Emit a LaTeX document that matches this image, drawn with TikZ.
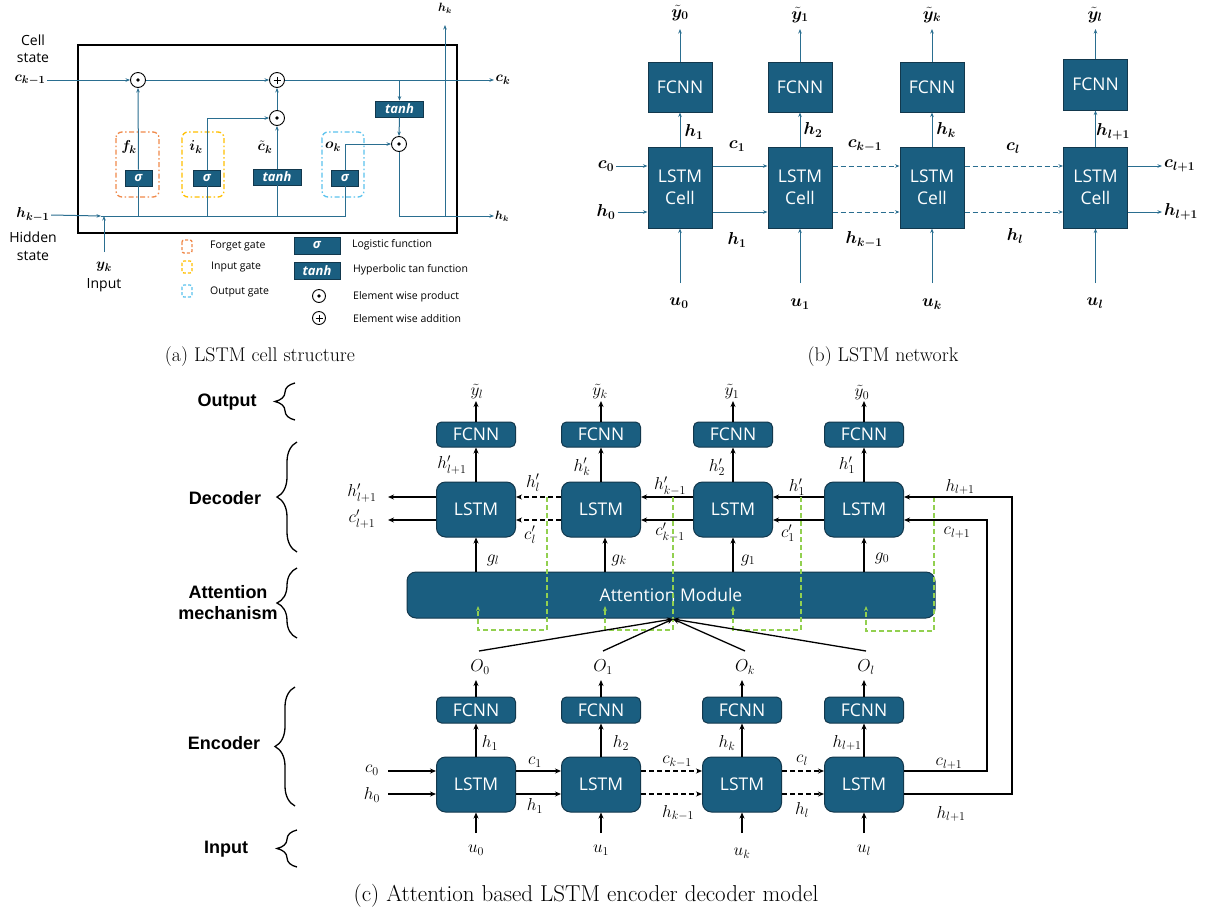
\documentclass[tikz,border=0pt]{standalone}
\usepackage{amsmath,bm}
\usepackage{fontspec}
\newfontfamily\boxfont{Open Sans}
\newfontfamily\hdfont{Liberation Sans}
\usetikzlibrary{arrows.meta,decorations.pathreplacing,calc}
\definecolor{boxc}{HTML}{1A5E80}
\definecolor{boxd}{HTML}{12384D}
\definecolor{lnc}{HTML}{2A6E90}
\definecolor{grn}{HTML}{92D050}
\definecolor{orgc}{HTML}{F08A4B}
\definecolor{ylwc}{HTML}{FFC000}
\definecolor{cyc}{HTML}{5BC3EE}
\newcommand{\bty}{\tilde{\bm{y}}}
\begin{document}
\begin{tikzpicture}[x=1pt,y=-1pt,
  ln/.style={draw=lnc,line width=1pt},
  lna/.style={ln,-{Stealth[length=4.5pt,width=3.5pt]}},
  bk/.style={draw=black,line width=1.3pt},
  bka/.style={bk,-{Stealth[length=6pt,width=5pt]}},
  dsh/.style={dash pattern=on 5pt off 3pt},
  gd/.style={draw=grn,line width=1.3pt,dash pattern=on 5pt off 3pt},
  gda/.style={gd,-{Stealth[length=5pt,width=4pt]}},
  opdot/.style={circle,draw=black,line width=0.9pt,fill=white,minimum size=15pt,inner sep=0pt,
    path picture={\fill[black] (path picture bounding box.center) circle (1.8pt);}},
  opplus/.style={circle,draw=black,line width=0.9pt,fill=white,minimum size=15pt,inner sep=0pt,
    path picture={\draw[black,line width=0.8pt] (path picture bounding box.center) ++(-3.5,0) -- ++(7,0)
      (path picture bounding box.center) ++(0,-3.5) -- ++(0,7);}},
  fnbox/.style={fill=boxc,draw=boxd,line width=0.8pt,text=white,inner sep=0pt,
    font=\boxfont\bfseries\itshape\fontsize{13}{13}\selectfont},
  sigbox/.style={fnbox,minimum width=27pt,minimum height=16pt},
  tanhbox/.style={fnbox,minimum width=48pt,minimum height=16pt},
  netbox/.style={fill=boxc,draw=boxd,line width=1pt,text=white,inner sep=0pt,align=center,
    minimum width=64pt,font=\boxfont\fontsize{17.5}{22}\selectfont},
  rbox/.style={fill=boxc,draw=boxd,line width=1pt,text=white,inner sep=0pt,minimum width=79pt,
    font=\boxfont\fontsize{17.5}{19}\selectfont},
  fcc/.style={rbox,minimum height=25pt,rounded corners=5pt},
  lsc/.style={rbox,minimum height=55pt,rounded corners=9pt},
  txa/.style={font=\boxfont\fontsize{14}{16}\selectfont,inner sep=1pt},
  lgt/.style={font=\boxfont\fontsize{10.5}{12}\selectfont,anchor=west,inner sep=0pt},
  mla/.style={font=\fontsize{15.5}{17}\selectfont,inner sep=1.5pt},
  mls/.style={font=\fontsize{11.5}{13}\selectfont,inner sep=1pt},
  mlb/.style={font=\fontsize{16.5}{18}\selectfont,inner sep=2pt},
  mlc/.style={font=\fontsize{18}{20}\selectfont,inner sep=1pt},
  hd/.style={font=\hdfont\bfseries\fontsize{18}{21}\selectfont,align=center},
  brc/.style={draw=black,line width=1.3pt,decorate,decoration={brace,amplitude=20pt}},
  captxt/.style={font=\fontsize{19.8}{22}\selectfont},
  gate/.style={line width=1.3pt,dash pattern=on 5pt off 2.5pt on 1.5pt off 2.5pt,rounded corners=6pt}
]
\fill[white] (0,0) rectangle (1208,914);
\useasboundingbox (0,0) rectangle (1208,914);

% ================= (a) LSTM cell structure =================
\draw[line width=1.4pt] (78,45) rectangle (457,233);
\node[txa] (cs1) at (33,40) {Cell};
\node[txa] (cs2) at (33,58) {state};
\node[mla] (ckm) at (30,80) {$\bm{c_{k-1}}$};
\node[mla] (hkm) at (33,215) {$\bm{h_{k-1}}$};
\node[txa] (hs1) at (33,237) {Hidden};
\node[txa] (hs2) at (33,256) {state};
\node[mla] (yk) at (104,267) {$\bm{y_k}$};
\node[txa] (inp) at (104,285) {Input};

% gate frames
\draw[gate,draw=orgc] (116,132) rectangle (159,197);
\draw[gate,draw=ylwc] (182,132) rectangle (224,197);
\draw[gate,draw=cyc] (322,132) rectangle (364,197);

\node[opdot] (m1) at (138,80) {};
\node[opplus] (a1) at (277,80) {};
\node[opdot] (m2) at (277,118) {};
\node[opdot] (m3) at (399,144) {};
\node[sigbox] (sf) at (138.5,178) {σ};
\node[sigbox] (si) at (207,178) {σ};
\node[tanhbox] (tc) at (277,177) {tanh};
\node[sigbox] (so) at (345,178) {σ};
\node[tanhbox] (tt) at (399.5,109) {tanh};
\node[mla] (fk) at (129,147) {$\bm{f_k}$};
\node[mla] (ik) at (196,147) {$\bm{i_k}$};
\node[mla] (ctk) at (265,147) {$\tilde{\bm{c}}_{\bm{k}}$};
\node[mla] (ok) at (333,147) {$\bm{o_k}$};
\node[mla,anchor=west] (ck) at (494,80) {$\bm{c_k}$};
\node[mls,anchor=west] (hko) at (494,216) {$\bm{h_k}$};
\node[mls] (hkt) at (445,8) {$\bm{h_k}$};

\coordinate (tb) at (399.5,80);
\coordinate (hy) at (101,216);
\coordinate (hj) at (445,216);
\coordinate (hke) at (445,25);
\coordinate (yb) at (104,252);
\coordinate (yt) at (104,216);

\draw[lna] (ckm.east) -- (m1.west);
\draw[lna] (m1.east) -- (a1.west);
\draw[lna] (a1.east) -- (ck.west);
\draw[lna] (tb) -- (tt.north);
\draw[lna] (tt.south) -- (m3.north);
\draw[lna] (sf.north) -- (m1.south);
\draw[lna] (si.north) |- (m2.west);
\draw[lna] (tc.north) -- (m2.south);
\draw[lna] (m2.north) -- (a1.south);
\draw[lna] (so.north) |- (m3.west);
\draw[lna] (m3.south) |- (hko.west);
\draw[lna] (hj) -- (hke);
\draw[lna] (hkm.east) -- (hy);
\draw[ln] (hy) -- (so.south |- hy) -- (so.south);
\draw[ln] (sf.south) -- (sf.south |- hy);
\draw[ln] (si.south) -- (si.south |- hy);
\draw[ln] (tc.south) -- (tc.south |- hy);
\draw[lna] (yb) -- (yt);

% legend
\draw[gate,draw=orgc,rounded corners=2pt,dash pattern=on 3pt off 2pt] (182,240) rectangle (192,253);
\draw[gate,draw=ylwc,rounded corners=2pt,dash pattern=on 3pt off 2pt] (182,261) rectangle (192,273);
\draw[gate,draw=cyc,rounded corners=2pt,dash pattern=on 3pt off 2pt] (182,285) rectangle (192,297);
\node[lgt] (lg1) at (210,246) {Forget gate};
\node[lgt] (lg2) at (211,267) {Input gate};
\node[lgt] (lg3) at (210,292) {Output gate};
\node[sigbox,minimum width=46pt,minimum height=17pt] (lgs) at (317,245.5) {σ};
\node[tanhbox,minimum width=46pt,minimum height=17pt] (lgt) at (317,270.5) {tanh};
\node[opdot,minimum size=13pt] (lgd) at (319,296) {};
\node[opplus,minimum size=13pt] (lgp) at (319,318) {};
\node[lgt] (lg4) at (352,245) {Logistic function};
\node[lgt] (lg5) at (353,270) {Hyperbolic tan function};
\node[lgt] (lg6) at (353,297) {Element wise product};
\node[lgt] (lg7) at (353,319) {Element wise addition};

\node[captxt] (capa) at (260,357) {(a) LSTM cell structure};

% ================= (b) LSTM network =================
\node[netbox,minimum height=50pt] (fb1) at (680,87) {FCNN};
\node[netbox,minimum height=50pt] (fb2) at (800,87) {FCNN};
\node[netbox,minimum height=50pt] (fb3) at (932,87) {FCNN};
\node[netbox,minimum height=51pt] (fb4) at (1095.5,84.5) {FCNN};
\node[netbox,minimum height=81pt] (lb1) at (680,187.5) {LSTM\\Cell};
\node[netbox,minimum height=81pt] (lb2) at (800,187.5) {LSTM\\Cell};
\node[netbox,minimum height=81pt] (lb3) at (932,187.5) {LSTM\\Cell};
\node[netbox,minimum height=81pt] (lb4) at (1095.5,187.5) {LSTM\\Cell};

\node[mlb] (yb0) at (680,13) {$\bty_{\bm{0}}$};
\node[mlb] (yb1) at (800,15) {$\bty_{\bm{1}}$};
\node[mlb] (ybk) at (932,15) {$\bty_{\bm{k}}$};
\node[mlb] (ybl) at (1095,15) {$\bty_{\bm{l}}$};
\coordinate (yb0e) at (680,29);
\coordinate (yb1e) at (800,29);
\coordinate (ybke) at (932,29);
\coordinate (yble) at (1095.5,29);
\draw[lna] (fb1.north) -- (yb0e);
\draw[lna] (fb2.north) -- (yb1e);
\draw[lna] (fb3.north) -- (ybke);
\draw[lna] (fb4.north) -- (yble);
\draw[lna] (lb1.north) -- (fb1.south);
\draw[lna] (lb2.north) -- (fb2.south);
\draw[lna] (lb3.north) -- (fb3.south);
\draw[lna] (lb4.north) -- (fb4.south);

\node[mlb] (hbu1) at (694,132) {$\bm{h_1}$};
\node[mlb] (hbu2) at (813,130) {$\bm{h_2}$};
\node[mlb] (hbuk) at (946,130) {$\bm{h_k}$};
\node[mlb] (hbul) at (1113,132) {$\bm{h_{l+1}}$};

\node[mlb] (cb0) at (606,166) {$\bm{c_0}$};
\node[mlb] (hb0) at (606,212) {$\bm{h_0}$};
\draw[lna] (cb0.east) -- ([yshift=21.5pt]lb1.west);
\draw[lna] (hb0.east) -- ([yshift=-24.5pt]lb1.west);
\draw[lna] ([yshift=21.5pt]lb1.east) -- ([yshift=21.5pt]lb2.west);
\draw[lna] ([yshift=-24.5pt]lb1.east) -- ([yshift=-24.5pt]lb2.west);
\draw[lna,dsh] ([yshift=21.5pt]lb2.east) -- ([yshift=21.5pt]lb3.west);
\draw[lna,dsh] ([yshift=-24.5pt]lb2.east) -- ([yshift=-24.5pt]lb3.west);
\draw[lna,dsh] ([yshift=21.5pt]lb3.east) -- ([yshift=21.5pt]lb4.west);
\draw[lna,dsh] ([yshift=-24.5pt]lb3.east) -- ([yshift=-24.5pt]lb4.west);
\node[mlb,anchor=west] (cbo) at (1162,166) {$\bm{c_{l+1}}$};
\node[mlb,anchor=west] (hbo) at (1162,212) {$\bm{h_{l+1}}$};
\draw[lna] ([yshift=21.5pt]lb4.east) -- (cbo.west);
\draw[lna] ([yshift=-24.5pt]lb4.east) -- (hbo.west);

\node[mlb] (cb1) at (737,146) {$\bm{c_1}$};
\node[mlb] (hb1) at (737,240) {$\bm{h_1}$};
\node[mlb] (cbk) at (865,146) {$\bm{c_{k-1}}$};
\node[mlb] (hbk) at (864,240) {$\bm{h_{k-1}}$};
\node[mlb] (cbl) at (1013,148) {$\bm{c_l}$};
\node[mlb] (hbl) at (1015,236) {$\bm{h_l}$};

\coordinate (ub0s) at (680,283);
\coordinate (ub1s) at (800,283);
\coordinate (ubks) at (932,283);
\coordinate (ubls) at (1095.5,283);
\draw[lna] (ub0s) -- (lb1.south);
\draw[lna] (ub1s) -- (lb2.south);
\draw[lna] (ubks) -- (lb3.south);
\draw[lna] (ubls) -- (lb4.south);
\node[mlb] (ub0) at (679,303) {$\bm{u_0}$};
\node[mlb] (ub1) at (800,304) {$\bm{u_1}$};
\node[mlb] (ubk) at (932,304) {$\bm{u_k}$};
\node[mlb] (ubl) at (1095,303) {$\bm{u_l}$};

\node[captxt] (capb) at (883,357) {(b) LSTM network};

% ================= (c) attention encoder-decoder =================
% side labels with braces
\node[hd] (sOut) at (227,402) {Output};
\node[hd] (sDec) at (225,498) {Decoder};
\node[hd] (sAtt) at (228,603) {Attention\\mechanism};
\node[hd] (sEnc) at (224,743) {Encoder};
\node[hd] (sInp) at (226,849) {Input};
\draw[brc] (295,420) -- (295,383);
\draw[brc] (297,552) -- (297,442);
\draw[brc] (297,638) -- (297,568);
\draw[brc] (295,806) -- (295,687);
\draw[brc] (297,867) -- (297,830);

% decoder
\node[fcc] (dfc1) at (476,434.5) {FCNN};
\node[fcc] (dfc2) at (601,434.5) {FCNN};
\node[fcc] (dfc3) at (733,434.5) {FCNN};
\node[fcc] (dfc4) at (864,434.5) {FCNN};
\node[lsc] (dls1) at (476,509.5) {LSTM};
\node[lsc] (dls2) at (601,509.5) {LSTM};
\node[lsc] (dls3) at (733,509.5) {LSTM};
\node[lsc] (dls4) at (864,509.5) {LSTM};
\node[rbox,minimum width=528pt,minimum height=46pt,rounded corners=9pt] (att) at (671,595) {Attention Module};

\node[mlc] (yo1) at (477,392) {$\tilde{y}_l$};
\node[mlc] (yo2) at (600,392) {$\tilde{y}_k$};
\node[mlc] (yo3) at (732,392) {$\tilde{y}_1$};
\node[mlc] (yo4) at (862,393) {$\tilde{y}_0$};
\coordinate (yo1e) at (476,401);
\coordinate (yo2e) at (601,401);
\coordinate (yo3e) at (733,401);
\coordinate (yo4e) at (864,401);
\draw[bka] (dfc1.north) -- (yo1e);
\draw[bka] (dfc2.north) -- (yo2e);
\draw[bka] (dfc3.north) -- (yo3e);
\draw[bka] (dfc4.north) -- (yo4e);
\draw[bka] (dls1.north) -- (dfc1.south);
\draw[bka] (dls2.north) -- (dfc2.south);
\draw[bka] (dls3.north) -- (dfc3.south);
\draw[bka] (dls4.north) -- (dfc4.south);
\node[mlc] (hd1) at (452,465) {$h'_{l+1}$};
\node[mlc] (hd2) at (582,467) {$h'_k$};
\node[mlc] (hd3) at (717,467) {$h'_2$};
\node[mlc] (hd4) at (847,465) {$h'_1$};

% decoder state chain (right to left)
\coordinate (dho) at (388,497);
\coordinate (dco) at (388,520);
\draw[bka] ([yshift=12.5pt]dls1.west) -- (dho);
\draw[bka] ([yshift=-10.5pt]dls1.west) -- (dco);
\draw[bka,dsh] ([yshift=12.5pt]dls2.west) -- ([yshift=12.5pt]dls1.east);
\draw[bka,dsh] ([yshift=-10.5pt]dls2.west) -- ([yshift=-10.5pt]dls1.east);
\draw[bka] ([yshift=12.5pt]dls3.west) -- ([yshift=12.5pt]dls2.east);
\draw[bka] ([yshift=-10.5pt]dls3.west) -- ([yshift=-10.5pt]dls2.east);
\draw[bka] ([yshift=12.5pt]dls4.west) -- ([yshift=12.5pt]dls3.east);
\draw[bka] ([yshift=-10.5pt]dls4.west) -- ([yshift=-10.5pt]dls3.east);
\node[mlc] (dlh0) at (362,493) {$h'_{l+1}$};
\node[mlc] (dlc0) at (362,519) {$c'_{l+1}$};
\node[mlc] (dlh1) at (533,483) {$h'_l$};
\node[mlc] (dlc1) at (530,535) {$c'_l$};
\node[mlc] (dlh2) at (670,486) {$h'_{k-1}$};
\node[mlc] (dlc2) at (670,532) {$c'_{k-1}$};
\node[mlc] (dlh3) at (797,487) {$h'_1$};
\node[mlc] (dlc3) at (788,533) {$c'_1$};
\node[mlc] (dlh4) at (960,487) {$h_{l+1}$};
\node[mlc] (dlc4) at (957,533) {$c_{l+1}$};

% context vectors into the decoder
\draw[bka] (dls1.south |- att.north) -- (dls1.south);
\draw[bka] ([xshift=4pt]dls2.south |- att.north) -- ([xshift=4pt]dls2.south);
\draw[bka] (dls3.south |- att.north) -- (dls3.south);
\draw[bka] (dls4.south |- att.north) -- (dls4.south);
\node[mlc] (g1) at (493,560) {$g_l$};
\node[mlc] (g2) at (619,560) {$g_k$};
\node[mlc] (g3) at (748,560) {$g_1$};
\node[mlc] (g4) at (882,558) {$g_0$};

% decoder hidden state fed back to the attention module
\coordinate (gt1) at (547,497); \coordinate (gb1) at (547,630); \coordinate (ga1) at (478,606);
\coordinate (gt2) at (673,497); \coordinate (gb2) at (673,630); \coordinate (ga2) at (605,606);
\coordinate (gt3) at (801,497); \coordinate (gb3) at (801,630); \coordinate (ga3) at (733,606);
\coordinate (gt4) at (934,497); \coordinate (gb4) at (934,631); \coordinate (ga4) at (866,606);
\draw[gda] (gt1) -- (gb1) -| (ga1);
\draw[gda] (gt2) -- (gb2) -| (ga2);
\draw[gda] (gt3) -- (gb3) -| (ga3);
\draw[gda] (gt4) -- (gb4) -| (ga4);

% encoder outputs into the attention module
\coordinate (ap) at (673,619);
\coordinate (os1) at (479,651);
\coordinate (os2) at (603,651);
\coordinate (os3) at (745,651);
\coordinate (os4) at (866,651);
\draw[bka] (os1) -- (ap);
\draw[bka] (os2) -- (ap);
\draw[bka] (os3) -- (ap);
\draw[bka] (os4) -- (ap);
\node[mlc] (o1) at (480,667) {$O_0$};
\node[mlc] (o2) at (603,667) {$O_1$};
\node[mlc] (o3) at (745,667) {$O_k$};
\node[mlc] (o4) at (866,667) {$O_l$};

% encoder
\node[fcc,minimum height=26pt] (efc1) at (476,710) {FCNN};
\node[fcc,minimum height=26pt] (efc2) at (601,710) {FCNN};
\node[fcc,minimum height=26pt] (efc3) at (742,710) {FCNN};
\node[fcc,minimum height=26pt] (efc4) at (864,710) {FCNN};
\node[lsc] (els1) at (476,784.5) {LSTM};
\node[lsc] (els2) at (601,784.5) {LSTM};
\node[lsc] (els3) at (742,784.5) {LSTM};
\node[lsc] (els4) at (864,784.5) {LSTM};
\coordinate (oe1) at (476,680);
\coordinate (oe2) at (601,680);
\coordinate (oe3) at (742,680);
\coordinate (oe4) at (864,680);
\draw[bka] (efc1.north) -- (oe1);
\draw[bka] (efc2.north) -- (oe2);
\draw[bka] (efc3.north) -- (oe3);
\draw[bka] (efc4.north) -- (oe4);
\draw[bka] (els1.north) -- (efc1.south);
\draw[bka] (els2.north) -- (efc2.south);
\draw[bka] (els3.north) -- (efc3.south);
\draw[bka] (els4.north) -- (efc4.south);
\node[mlc] (he1) at (490,743) {$h_1$};
\node[mlc] (he2) at (621,743) {$h_2$};
\node[mlc] (he3) at (727,743) {$h_k$};
\node[mlc] (he4) at (847,743) {$h_{l+1}$};

\node[mlc] (ce0) at (372,770) {$c_0$};
\node[mlc] (he0) at (372,795) {$h_0$};
\coordinate (c0s) at (388,771);
\coordinate (h0s) at (388,794);
\draw[bka] (c0s) -- ([yshift=13.5pt]els1.west);
\draw[bka] (h0s) -- ([yshift=-9.5pt]els1.west);
\draw[bka] ([yshift=13.5pt]els1.east) -- ([yshift=13.5pt]els2.west);
\draw[bka] ([yshift=-9.5pt]els1.east) -- ([yshift=-9.5pt]els2.west);
\draw[bka,dsh] ([yshift=13.5pt]els2.east) -- ([yshift=13.5pt]els3.west);
\draw[bka,dsh] ([yshift=-9.5pt]els2.east) -- ([yshift=-9.5pt]els3.west);
\draw[bka,dsh] ([yshift=13.5pt]els3.east) -- ([yshift=13.5pt]els4.west);
\draw[bka,dsh] ([yshift=-9.5pt]els3.east) -- ([yshift=-9.5pt]els4.west);
\node[mlc] (ce1) at (535,762) {$c_1$};
\node[mlc] (he1b) at (535,806) {$h_1$};
\node[mlc] (ce2) at (677,762) {$c_{k-1}$};
\node[mlc] (he2b) at (678,813) {$h_{k-1}$};
\node[mlc] (ce3) at (802,760) {$c_l$};
\node[mlc] (he3b) at (802,810) {$h_l$};
\node[mlc] (ce4) at (949,764) {$c_{l+1}$};
\node[mlc] (he4b) at (951,814) {$h_{l+1}$};

% final encoder state handed to the decoder
\coordinate (rhc) at (1012,640);
\coordinate (rcc) at (987,640);
\draw[bka] ([yshift=-9.5pt]els4.east) -| (rhc) |- ([yshift=12.5pt]dls4.east);
\draw[bka] ([yshift=13.5pt]els4.east) -| (rcc) |- ([yshift=-10.5pt]dls4.east);

% inputs
\coordinate (us1) at (476,833);
\coordinate (us2) at (601,833);
\coordinate (us3) at (742,833);
\coordinate (us4) at (864,833);
\draw[bka] (us1) -- (els1.south);
\draw[bka] (us2) -- (els2.south);
\draw[bka] (us3) -- (els3.south);
\draw[bka] (us4) -- (els4.south);
\node[mlc] (u1) at (476,850) {$u_0$};
\node[mlc] (u2) at (601,850) {$u_1$};
\node[mlc] (u3) at (742,853) {$u_k$};
\node[mlc] (u4) at (864,850) {$u_l$};

\node[font=\fontsize{23}{26}\selectfont] (capc) at (586,896) {(c) Attention based LSTM encoder decoder model};
\end{tikzpicture}
\end{document}
